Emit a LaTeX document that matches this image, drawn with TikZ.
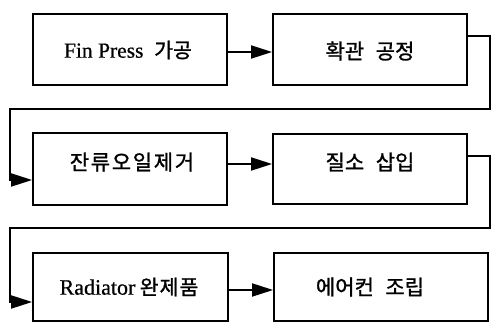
\documentclass[tikz,border=0pt]{standalone}
\usepackage{fontspec}
\setmainfont{Liberation Serif}[FakeBold=0.6]
\newfontfamily\kr{Noto Sans CJK KR}[FakeBold=1.2]
\usetikzlibrary{arrows.meta}
\begin{document}
\begin{tikzpicture}[x=1pt,y=-1pt,
  box/.style={draw,line width=1.8pt,minimum height=71pt,inner sep=0pt,
    font=\fontsize{21}{21}\selectfont},
  arr/.style={line width=1.8pt,-{Triangle[length=21pt,width=13pt]}},
  ktxt/.style={font=\kr\fontsize{21}{21}\selectfont}]
\useasboundingbox (0,0) rectangle (491,323);
\node[box,minimum width=194pt] (b1) at (130,49.5) {};
\node at (128,50) {\fontsize{21.5}{22}\selectfont Fin Press\hspace{0.5em}{\kr\fontsize{20.5}{20}\selectfont 가공}};
\node[box,minimum width=194pt] (b2) at (370,49.5) {};
\node[ktxt] at (370,51) {확관\hspace{0.55em}공정};
\node[box,minimum width=194pt,minimum height=72pt] (b3) at (130,169) {};
\node[ktxt] at (132,162) {잔\hspace{0.08em}류\hspace{0.08em}오\hspace{0.08em}일\hspace{0.08em}제\hspace{0.08em}거};
\node[box,minimum width=194pt,minimum height=70pt] (b4) at (370,169) {};
\node[ktxt] at (370,162) {질소\hspace{0.55em}삽입};
\node[box,minimum width=195pt,minimum height=68pt] (b5) at (130.5,287) {};
\node at (129,287) {\fontsize{22}{22}\selectfont Radiator\hspace{0.2em}{\kr\fontsize{20.5}{20}\selectfont 완\hspace{0.05em}제\hspace{0.05em}품}};
\node[box,minimum width=214pt,minimum height=68pt] (b6) at (381,287) {};
\node[ktxt] at (370,287) {에어컨\hspace{0.55em}조립};
\coordinate (k1) at (490,109);
\coordinate (k2) at (10,109);
\coordinate (k3) at (490,228);
\coordinate (k4) at (10,228);
\draw[arr] ([yshift=-2.5pt]b1.east) -- ([yshift=-2.5pt]b2.west);
\draw[arr] ([yshift=13.5pt]b2.east) -| (k1) -- (k2) |- ([yshift=-11pt]b3.west);
\draw[arr] ([yshift=5pt]b3.east) -- ([yshift=5pt]b4.west);
\draw[arr] ([yshift=13pt]b4.east) -| (k3) -- (k4) |- ([yshift=-15pt]b5.west);
\draw[arr] ([yshift=-3pt]b5.east) -- ([yshift=-3pt]b6.west);
\end{tikzpicture}
\end{document}
